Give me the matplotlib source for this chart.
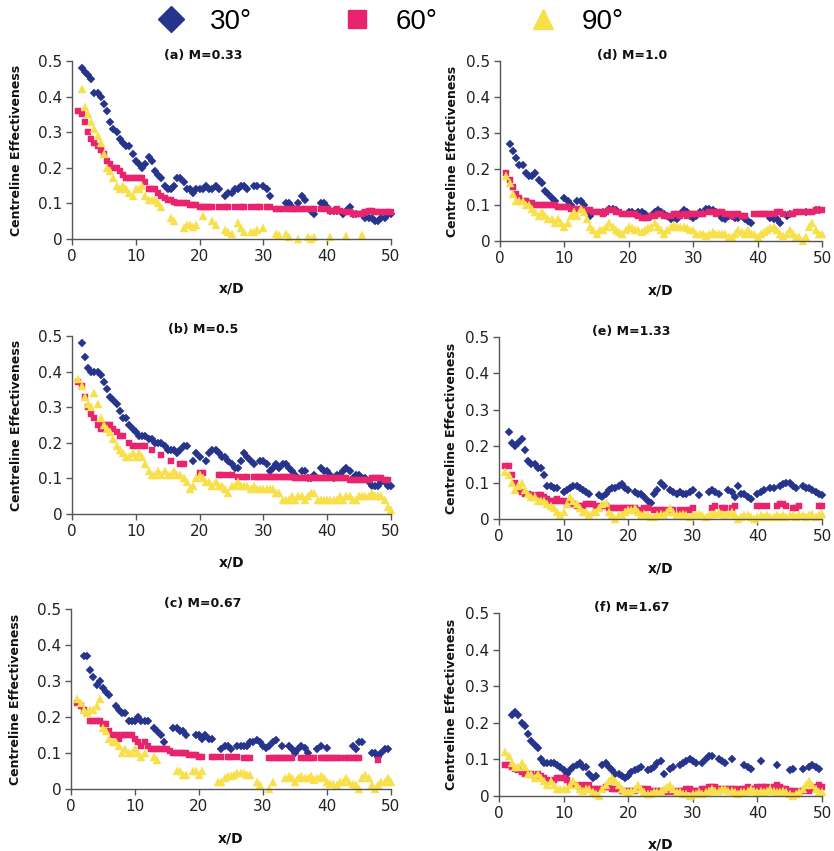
import numpy as np
import matplotlib
matplotlib.use("Agg")
import matplotlib.pyplot as plt
from matplotlib.lines import Line2D

N = None

# measurement stations x/D (1.0 .. 50.0, every 0.5)
x_stations = np.arange(1.0, 50.01, 0.5)

x_ticks = [0, 10, 20, 30, 40, 50]
x_tick_labels = ["0", "10", "20", "30", "40", "50"]
y_ticks = [0, 0.1, 0.2, 0.3, 0.4, 0.5]
y_tick_labels = ["0", "0.1", "0.2", "0.3", "0.4", "0.5"]

angles = ["30°", "60°", "90°"]

# ---------------- (a) M=0.33 ----------------
a_30 = [N, .48, .47, .46, .45, .41, .41, .40, .38, .36,
        .33, .31, .30, .28, .27, .26, .26, .24, .22, .21,
        .20, .21, .23, .22, .19, .18, .17, .15, .14, .14,
        .15, .17, .17, .16, .14, .14, .13, .14, .14, .14,
        .15, .14, .14, .15, .14, N, .12, .13, .13, .14,
        .14, .15, .15, .14, N, .15, .15, N, .15, .14,
        .12, N, N, N, N, .10, .10, .09, N, .10,
        .12, .11, N, .08, .07, N, .10, .10, .09, .08,
        .08, .08, N, .07, .08, .09, .07, .07, N, .07,
        .06, .06, .06, .05, .05, .06, .06, .07, .07]
a_60 = [.36, .35, .33, .30, .28, .27, .26, .25, .24, .22,
        .21, .20, .20, .19, .18, .17, .17, .17, .17, .17,
        .17, .16, .14, .14, .14, .13, .12, .115, .11, .11,
        .105, .10, .10, .10, .10, .095, .095, .095, .09, .09,
        .09, .09, .09, N, .09, N, .09, .09, N, .09,
        N, .09, .09, N, .09, N, .09, .09, N, .09,
        .09, N, .085, .085, .085, N, .085, .085, .085, .085,
        .085, .085, N, .085, .085, N, .085, N, .085, .08,
        .08, .085, .08, N, .075, .075, .07, .07, .07, .07,
        .075, .08, .08, .075, .075, .075, .075, .075, .075]
a_90 = [N, .42, .37, .35, .33, .31, .29, .27, .24, .20,
        .19, .17, .15, .14, .15, .14, .13, .12, .14, .14,
        .15, .12, .11, .11, .11, .10, .09, N, N, .06,
        .05, N, N, .03, .04, .04, .035, .04, N, .065,
        N, N, .05, .04, N, N, .025, .02, .015, N,
        .045, .03, .02, N, .02, .02, .025, N, .03, N,
        N, N, .015, .01, N, .015, .005, N, N, .0,
        N, N, .005, .0, .005, N, N, N, N, .005,
        N, N, N, N, .008, N, N, N, N, .01,
        N, N, N, N, N, N, N, N, N]

# ---------------- (b) M=0.5 ----------------
b_30 = [N, .48, .44, .41, .40, .40, .40, .39, .37, .35,
        .33, .32, .31, .29, .27, .27, .25, .24, .23, .22,
        .22, .22, .21, .21, .20, .20, .20, .19, .18, .18,
        .18, .17, .18, .19, .19, N, .15, .17, .16, N,
        .15, .17, .18, .18, .17, .16, .16, .15, .14, .13,
        .13, .15, .17, .16, .15, .14, N, .15, .15, .14,
        .12, .13, .14, .13, .14, .14, .13, .12, .11, N,
        .12, .12, .10, .10, .11, N, .13, .12, .12, .11,
        .10, .11, .11, .12, .13, .12, .10, .11, .11, .10,
        .10, .09, .08, .08, .08, .09, .09, .08, .08]
b_60 = [.37, .36, .33, .30, .28, .27, .25, .24, .25, .25,
        .25, .24, .23, .22, .22, N, .20, .19, .19, N,
        .19, .19, N, .18, N, N, .165, N, N, .15,
        N, N, .14, .14, N, N, N, N, .115, .115,
        N, N, N, N, .11, .11, N, .11, .11, N,
        .105, N, .105, .105, N, .105, .105, .105, .105, .105,
        .105, .105, .105, .105, .105, .105, .105, .105, .10, .10,
        .10, .10, .10, .10, .10, .10, .10, .10, .10, .10,
        .10, .10, .10, .10, .10, .095, .095, .095, .095, .095,
        .095, .095, .10, .10, .10, .10, .095, .095, N]
b_90 = [.38, .36, .33, .31, .30, .34, .31, .27, .25, .24,
        .23, .21, .19, .18, .17, .16, .16, .17, .16, .17,
        .16, .14, .12, .11, .11, .12, .11, .12, .11, .11,
        .12, .11, .11, .10, .09, .07, .08, .10, .11, .10,
        .09, .09, .08, .09, .08, .08, .07, .06, .08, .08,
        .09, .08, .08, .08, .07, .08, .07, .07, .07, .07,
        .07, .07, .06, .06, .04, .04, .04, .05, .04, .05,
        .05, .04, .05, .06, .06, .04, .04, .04, .04, .04,
        .04, .04, .05, .04, .05, .05, .04, .04, .05, .05,
        .05, .05, .06, .05, .05, .05, .04, .02, .01]

# ---------------- (c) M=0.67 ----------------
c_30 = [N, N, .37, .37, .33, .31, .29, .30, .28, .27,
        .26, N, .23, .22, .21, .21, .19, .19, .19, .20,
        .19, .19, .19, N, .17, .16, .15, .13, N, N,
        .17, .17, .16, .16, .15, N, N, .15, .15, .14,
        .15, .14, .14, N, N, .11, .12, .12, .11, N,
        .12, .12, .12, .12, .13, .13, .135, .13, .12, .115,
        .12, .13, .135, N, .12, N, .12, .11, .10, .11,
        .12, .115, .10, N, N, .11, .12, N, .115, N,
        N, N, N, N, N, N, .12, .11, .13, .13,
        N, N, .10, .10, .09, .10, .11, .11, N]
c_60 = [.24, .23, .22, .21, .19, .19, .19, .19, .18, .18,
        .16, .15, .15, .14, .15, .15, .15, .15, .14, .13,
        .12, .13, .12, .11, .11, .11, .11, .11, .11, .105,
        .10, .10, .10, .10, .10, .095, .095, .095, .09, .09,
        N, N, .09, .09, N, .09, N, .09, .09, N,
        .09, N, .085, .085, .085, N, N, N, N, N,
        .085, .085, .085, .085, .085, .085, .085, .085, N, N,
        .085, .085, .085, .085, .085, N, .085, .085, .085, .085,
        .085, .085, .085, N, .085, .085, .085, .085, .085, N,
        N, N, N, N, .08, N, N, N, N]
c_90 = [.25, .24, .22, .21, .22, .22, .23, .25, .17, .16,
        .14, .13, .13, .12, .10, .11, .10, .10, .11, .10,
        .09, .10, N, N, .09, .08, N, N, N, N,
        N, .05, .05, .04, .04, N, .05, .05, .04, .05,
        N, N, N, N, .02, .02, .03, .035, .035, .04,
        .045, .045, .045, .04, .04, N, .02, .01, N, N,
        .0, .02, N, N, N, .03, .035, .03, .02, .03,
        .035, .03, .03, .035, .025, .03, .035, .03, .02, .015,
        .015, .01, .02, .02, .03, .02, .015, .01, .0, .03,
        .04, .03, .01, .0, .01, .02, .02, .03, .02]

# ---------------- (d) M=1.0 ----------------
d_30 = [N, .27, .25, .23, .21, .21, .19, .18, .18, .19,
        .17, .16, .14, .13, .12, .11, N, N, .12, .11,
        .10, .09, .11, .11, .10, .08, .07, N, N, N,
        .08, .08, .09, .09, .085, N, N, N, .08, .08,
        .075, .08, .08, .075, N, .07, .08, .085, .08, .075,
        .07, .06, .065, .06, .075, .085, .08, .07, .065, .07,
        .08, N, .09, .09, .085, .08, .075, .065, .06, .07,
        .07, .065, .065, N, .06, .055, .05, N, N, N,
        N, N, .065, .06, .06, .05, N, .07, .075, N,
        N, N, N, .08, N, N, .085, .085, N]
d_60 = [.19, .17, .15, .13, .12, .11, .11, .105, .105, .10,
        .10, .10, .10, .10, .10, .10, .095, .095, .095, .095,
        .09, .09, .09, .09, .085, .085, .085, .08, .08, .08,
        .075, .08, .085, .085, .08, .08, .075, .075, .075, .075,
        .075, .07, .065, .065, .065, .07, .07, .075, .075, .07,
        .07, .07, .075, .075, .07, .075, .07, .075, .075, .075,
        .075, .075, N, .08, .08, .075, .08, .08, .075, .075,
        .07, .075, .075, .07, .07, N, N, .075, .075, .075,
        .075, .075, .075, .075, .08, .08, .075, N, .075, .075,
        .08, .08, .08, N, .08, .08, .085, .085, .085]
d_90 = [.18, .16, .13, .11, .11, .11, .10, .10, .09, .08,
        .07, .08, .07, .06, .06, .05, .06, .05, .04, .05,
        .07, .08, .07, .09, .08, .06, .04, .03, .02, .03,
        .03, .04, .05, .04, .03, .025, .02, .03, .04, .035,
        .03, .03, .025, .03, .035, .04, .05, .04, .03, .02,
        .03, .04, .045, .04, .04, .04, .035, .03, .03, .02,
        .02, .02, .015, .02, .025, .02, .02, .02, .02, .01,
        .01, .02, .03, .025, .02, .03, .02, .02, .01, .02,
        .025, .03, .035, .04, .03, .02, .015, .02, .03, .02,
        .01, .01, .0, .01, .04, .05, .03, .02, .02]

# ---------------- (e) M=1.33 ----------------
e_30 = [N, .24, .21, .20, .21, .22, .19, .16, .15, .15,
        .14, .14, .12, .09, .09, .085, .085, N, .075, .08,
        .085, .09, .09, .085, .08, .075, .07, N, N, .065,
        .06, .07, .08, .085, .085, .09, .095, .085, .08, N,
        .075, .07, .07, .06, .05, .045, .07, .08, .10, .09,
        N, .08, .075, .07, .075, .07, .07, .075, .08, N,
        .065, N, N, .075, .08, .075, .07, N, N, .08,
        .075, .06, .09, .07, .07, .06, .055, N, .07, .075,
        .08, N, .085, .085, N, .09, .095, .10, .10, .09,
        .085, N, .09, .085, .085, .08, .075, .07, .065]
e_60 = [.145, .145, .12, .10, .08, .075, .07, .07, .065, .06,
        .065, .065, .06, .055, .05, .05, .055, .05, .05, .045,
        .04, .04, .035, .035, .035, .04, .04, .04, .035, .03,
        .035, .035, .03, .03, .03, .03, .03, .03, .03, .03,
        .03, .025, .025, .03, .03, N, .025, .025, .025, .025,
        N, .025, .025, N, .025, N, .025, .025, .03, N,
        N, N, N, N, .03, .035, N, .03, .03, N,
        .03, .035, N, N, N, N, N, N, .035, .035,
        N, .035, N, N, .035, .04, .04, .035, N, .03,
        .03, .035, N, N, N, N, N, .035, .035]
e_90 = [.13, .12, .10, .08, .09, .10, .08, .07, .06, .06,
        .05, .05, .05, .04, .035, .03, .02, .01, .02, .04,
        .06, .05, .04, .03, .02, .02, .01, .02, .02, .03,
        .04, .045, .02, .01, .0, .01, .01, .02, .025, .025,
        .03, .02, .01, .015, .01, .005, .005, .01, .015, .01,
        .02, .03, .02, .01, .01, .015, .01, .005, .01, .01,
        .015, .01, .005, .01, .015, .015, .02, .015, .01, .015,
        .02, .01, .0, .005, .01, .01, .005, .0, .005, .01,
        .005, .01, .005, .005, .01, .005, .01, .005, .01, .01,
        .005, .01, .01, .005, .01, .015, .005, .01, .015]

# ---------------- (f) M=1.67 ----------------
f_30 = [N, N, .22, .23, .22, .20, .19, .17, .15, .14,
        .13, .10, .09, .09, .09, .09, .085, .08, .07, .06,
        .07, .08, .085, .09, .08, .08, .06, .05, .055, N,
        .085, .09, .08, .07, .06, .06, .055, .05, .055, .065,
        .07, .075, .08, N, .07, .075, .08, .09, .095, .06,
        N, .075, .08, N, .085, .09, .095, .10, .095, .09,
        N, .09, .10, .11, .11, N, .10, .095, .09, N,
        .10, N, N, N, .085, .08, .075, N, N, .095,
        N, N, N, N, .085, N, N, N, .07, .075,
        N, N, .075, N, .08, .085, .08, .075, N]
f_60 = [.085, .085, .08, .075, .07, .065, .06, .06, .06, .055,
        .06, .055, .05, .045, .04, .045, .05, .05, .05, .045,
        .03, .03, .03, .025, .03, .025, .03, .02, .02, .02,
        .02, .025, .025, .02, .02, .02, .015, .015, .015, .015,
        .015, .02, .02, .02, .02, .015, .015, .015, .015, .01,
        .01, .015, .01, .015, .015, .015, .02, .02, .015, .015,
        .015, .02, .02, .025, .025, .025, .02, .02, .02, .02,
        .02, .02, .015, .02, .02, .025, .02, .02, .025, .025,
        .025, .025, .02, .025, .03, .025, .02, .02, .015, .015,
        .01, .015, .015, .02, .015, .02, .025, .03, .025]
f_90 = [.12, .11, .09, .08, .08, .09, .08, .06, .06, .05,
        .06, .05, .04, .03, .04, .03, .02, .02, .02, .02,
        .03, .04, .03, .02, .015, .02, .02, .01, .005, .0,
        .02, .03, .04, .05, .04, .03, .02, .015, .01, .015,
        .02, .03, .02, .01, .005, .005, .01, .01, .015, .02,
        .025, .03, .02, .01, .01, .005, .005, .0, .005, .005,
        .01, .005, .01, .015, .02, .015, .015, .02, .02, .015,
        .015, .01, .005, .01, .01, .015, .02, .015, .01, .015,
        .01, .015, .02, .015, .01, .01, .015, .01, .005, .0,
        .005, .01, .02, .03, .04, .03, .02, .01, .01]

panel_titles = ["(a) M=0.33", "(b) M=0.5", "(c) M=0.67",
                "(d) M=1.0", "(e) M=1.33", "(f) M=1.67"]
panel_series = [(a_30, a_60, a_90), (b_30, b_60, b_90), (c_30, c_60, c_90),
                (d_30, d_60, d_90), (e_30, e_60, e_90), (f_30, f_60, f_90)]

# ---------------- styling ----------------
colors = ["#26348C", "#E8246E", "#F8E04A"]
markers = ["D", "s", "^"]
msizes = [4.0, 4.8, 5.8]

W, H = 834, 851
# axes rectangles in pixels: left, top, right, bottom
rects_px = [(72, 61, 391, 239), (72, 336, 391, 514), (71, 609, 391, 789),
            (500, 61, 822, 241), (499, 337, 822, 519), (499, 613, 822, 796)]
ylabel_off_px = [55, 55, 55, 48, 48, 48]

plt.rcParams["font.family"] = ["DejaVu Sans"]

fig = plt.figure(figsize=(W / 100, H / 100), dpi=100)


def to_arr(v):
    assert len(v) == len(x_stations), len(v)
    return np.array([np.nan if t is None else t for t in v], dtype=float)


for title, series, (l, t, r, b), yoff in zip(panel_titles, panel_series, rects_px, ylabel_off_px):
    ax = fig.add_axes([l / W, 1 - b / H, (r - l) / W, (b - t) / H])
    for ys, m, c, ms in zip(series, markers, colors, msizes):
        ax.plot(x_stations, to_arr(ys), ls="none", marker=m, color=c,
                ms=ms, mec=c, mew=0.3, clip_on=False)
    ax.set_xlim(0, 50)
    ax.set_ylim(0, 0.5)
    ax.set_xticks(x_ticks)
    ax.set_xticklabels(x_tick_labels)
    ax.set_yticks(y_ticks)
    ax.set_yticklabels(y_tick_labels)
    for s in ("top", "right"):
        ax.spines[s].set_visible(False)
    for s in ("left", "bottom"):
        ax.spines[s].set_color("#555555")
        ax.spines[s].set_linewidth(1.0)
    ax.tick_params(direction="out", length=4, width=1, color="#555555",
                   labelcolor="#222222", labelsize=11, pad=3)
    ax.set_ylabel("Centreline Effectiveness", fontweight="bold", fontsize=9,
                  color="#111111")
    ax.yaxis.label.set_va("center")
    ax.yaxis.set_label_coords(-yoff / (r - l), 0.5)
    ax.set_xlabel("x/D", fontweight="bold", fontsize=10, color="#111111")
    ax.xaxis.label.set_va("center")
    ax.xaxis.set_label_coords(0.5, -49 / (b - t))
    ax.text(0.41, 1 + 6 / (b - t), title, transform=ax.transAxes,
            ha="center", va="center", fontweight="bold", fontsize=9,
            color="#111111")

handles = [Line2D([], [], ls="none", marker="D", color=colors[0], ms=13),
           Line2D([], [], ls="none", marker="s", color=colors[1], ms=13.5),
           Line2D([], [], ls="none", marker="^", color=colors[2], ms=14.5)]
fig.legend(handles, angles, loc="center", bbox_to_anchor=(389 / W, 1 - 22 / H),
           ncol=3, frameon=False, handlelength=1.2, handletextpad=0.8,
           columnspacing=3.2, prop={"family": "Liberation Sans", "size": 20})

fig.savefig("out.png", dpi=100)
